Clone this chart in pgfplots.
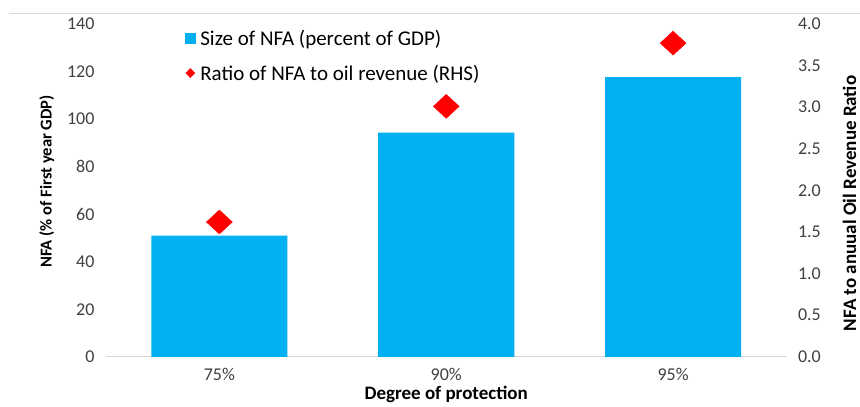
\documentclass[border=0pt]{standalone}
\usepackage{fontspec}
\setmainfont{Carlito}
\usepackage{pgfplots}
\pgfplotsset{compat=1.18}
\usetikzlibrary{calc}
\definecolor{barBlue}{RGB}{0,176,240}
\definecolor{dotRed}{RGB}{255,0,0}
\definecolor{tickGrey}{RGB}{64,64,64}
\definecolor{lineGrey}{RGB}{217,217,217}

\begin{document}
\begin{tikzpicture}
  \begin{axis}[
      name=ax,
      scale only axis,
      width=681pt, height=333pt,
      xmin=-0.5, xmax=2.5,
      ymin=0, ymax=140,
      xtick={0,1,2},
      xticklabels={75\%,90\%,95\%},
      ytick={0,20,...,140},
      axis x line*=bottom,
      axis y line*=left,
      x axis line style={draw=lineGrey, line width=1pt},
      y axis line style={draw=none},
      tick style={draw=none},
      tick label style={font=\fontsize{18pt}{20pt}\selectfont, text=tickGrey},
      /pgf/number format/assume math mode=true,
      yticklabel style={xshift=-8pt},
      xticklabel style={yshift=-8pt},
      xlabel={\textbf{Degree of protection}},
      ylabel={\textbf{NFA (\% of  First year GDP)}},
      xlabel style={font=\fontsize{19pt}{21pt}\selectfont, yshift=1pt},
      ylabel style={font=\fontsize{16.6pt}{18pt}\selectfont, yshift=6pt, xshift=9pt},
      legend style={draw=none, fill=none, at={(0.112,0.995)}, anchor=north west,
        font=\fontsize{21pt}{23pt}\selectfont, row sep=14pt,
        /tikz/every odd column/.append style={column sep=3pt}},
      legend cell align=left,
    ]
    \addplot[ybar, bar width=0.6, fill=barBlue, draw=none, forget plot]
      coordinates {(0,51) (1,94.3) (2,117.6)};
    \addlegendimage{only marks, mark=square*, mark options={fill=barBlue, draw=barBlue}, mark size=5pt}
    \addlegendentry{Size of NFA (percent of GDP)}
    \addlegendimage{only marks, mark=diamond*, mark options={fill=dotRed, draw=dotRed, xscale=1.33}, mark size=4.5pt}
    \addlegendentry{Ratio of NFA to oil revenue (RHS)}
  \end{axis}
  \begin{axis}[
      scale only axis,
      width=681pt, height=333pt,
      xmin=-0.5, xmax=2.5,
      ymin=0, ymax=4,
      axis x line=none,
      axis y line*=right,
      y axis line style={draw=none},
      tick style={draw=none},
      ytick={0,0.5,...,4},
      yticklabel style={/pgf/number format/fixed, /pgf/number format/fixed zerofill,
        /pgf/number format/precision=1, xshift=8pt},
      tick label style={font=\fontsize{18pt}{20pt}\selectfont, text=tickGrey},
      /pgf/number format/assume math mode=true,
      ylabel={\textbf{NFA to anuual Oil Revenue Ratio}},
      ylabel style={font=\fontsize{19pt}{21pt}\selectfont, yshift=-15pt, xshift=-13pt},
    ]
    \addplot[only marks, mark=diamond*, mark size=12pt,
      mark options={fill=dotRed, draw=dotRed, xscale=1.44}]
      coordinates {(0,1.62) (1,3.01) (2,3.77)};
  \end{axis}
  \draw[lineGrey, line width=1pt] ($(ax.south west)+(-97pt,343pt)$) -- ($(ax.south west)+(754pt,343pt)$);
  \path[use as bounding box] ($(ax.south west)+(-106pt,-45pt)$) rectangle ($(ax.south west)+(754pt,357pt)$);
\end{tikzpicture}
\end{document}
